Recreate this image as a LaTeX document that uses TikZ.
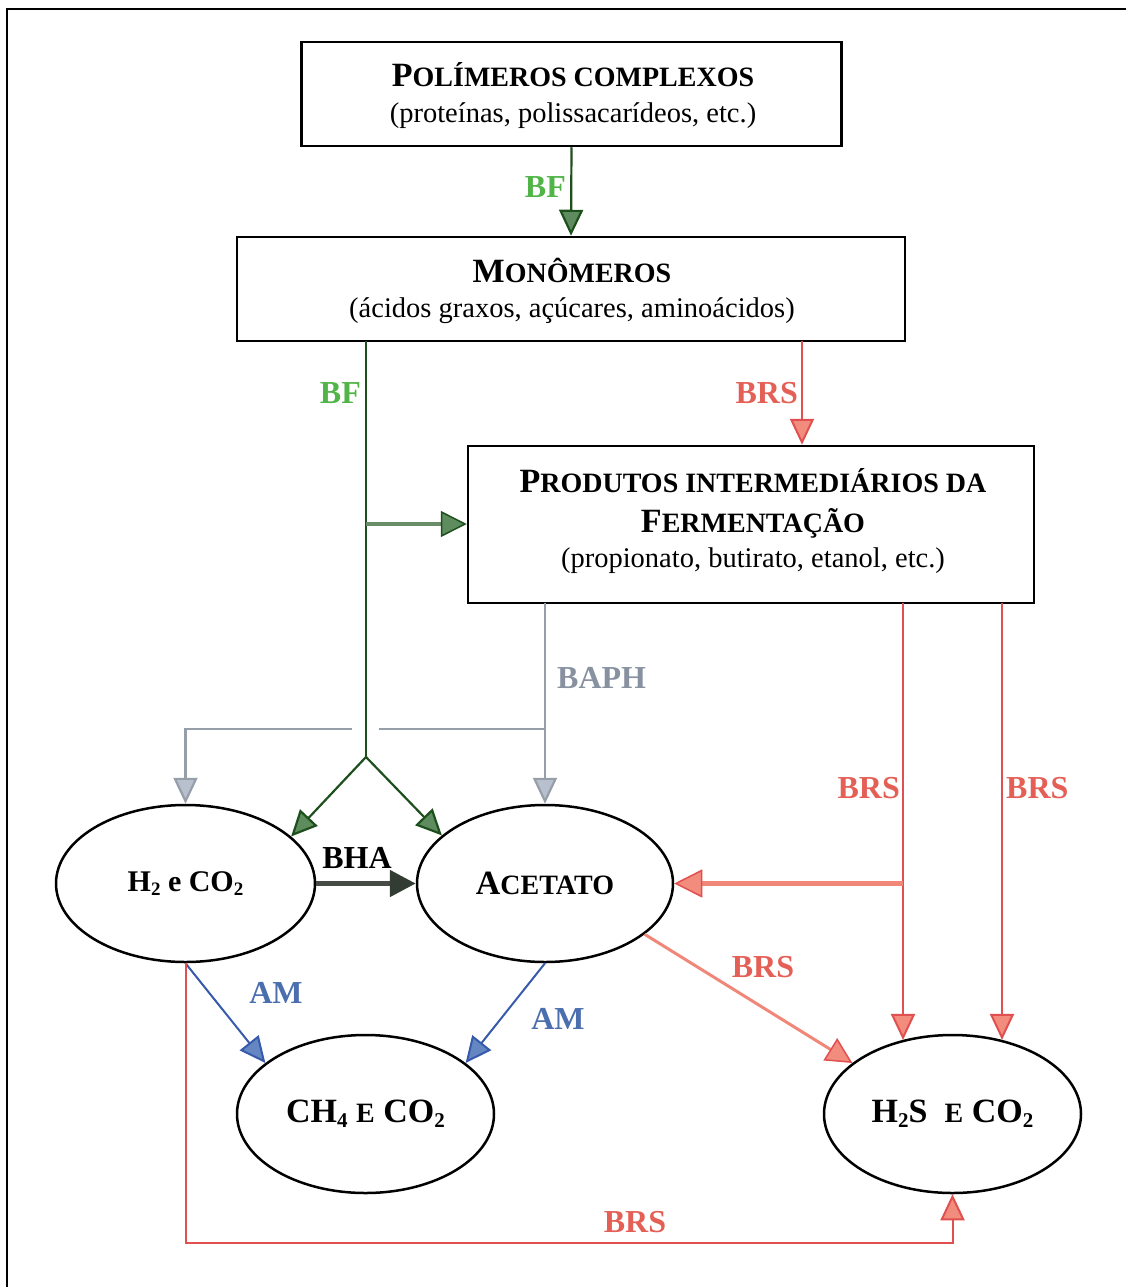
\documentclass[tikz,border=0pt]{standalone}
\usepackage{fontspec}
\setmainfont{Liberation Serif}
\usetikzlibrary{arrows.meta,shapes.geometric}
\newcommand\Bg[1]{{\fontsize{34}{40}\selectfont #1}}
\newcommand\Sm[1]{{\fontsize{28}{34}\selectfont #1}}
\newcommand\Sb[1]{\raisebox{-0.3ex}{\fontsize{21}{21}\selectfont #1}}
\newcommand\Sbs[1]{\raisebox{-0.3ex}{\fontsize{19}{19}\selectfont #1}}
\definecolor{gdark}{RGB}{30,80,30}
\definecolor{gfill}{RGB}{95,140,95}
\definecolor{gmid}{RGB}{105,140,105}
\definecolor{gtext}{RGB}{80,180,70}
\definecolor{rline}{RGB}{225,80,80}
\definecolor{rfill}{RGB}{242,140,125}
\definecolor{rthick}{RGB}{240,135,120}
\definecolor{rtext}{RGB}{228,95,85}
\definecolor{kline}{RGB}{150,158,170}
\definecolor{kfill}{RGB}{185,192,205}
\definecolor{ktext}{RGB}{135,145,160}
\definecolor{bline}{RGB}{55,90,170}
\definecolor{bfill}{RGB}{100,135,195}
\definecolor{btext}{RGB}{75,110,175}
\definecolor{hline}{RGB}{70,75,70}
\definecolor{hfill}{RGB}{50,60,50}
\begin{document}
\begin{tikzpicture}[x=1pt,y=-1pt,
  box/.style={draw, line width=2.5pt, rectangle, inner sep=0pt},
  ell/.style={draw, line width=2.5pt, ellipse, inner sep=0pt, font=\bfseries},
  lab/.style={inner sep=0pt, font=\fontsize{32}{36}\selectfont\bfseries},
  tip/.style={-{Triangle[length=26pt,width=24pt,fill=#1]}},
  gline/.style={draw=gdark, line width=2.2pt, tip=gfill},
  rln/.style={draw=rline, line width=2pt, tip=rfill},
  kln/.style={draw=kline, line width=2.2pt, tip=kfill},
  bln/.style={draw=bline, line width=2pt, tip=bfill}]
\useasboundingbox (0,0) rectangle (1126,1287);
\draw[line width=2.5pt] (7,1287) -- (7,9) -- (1126,9);

% boxes
\node[box, minimum width=540pt, minimum height=104pt] (box1) at (571.5,94) {};
\node[inner sep=0pt, align=center, font=\fontsize{28.5}{34}\selectfont] (box1t) at (573,96)
  {{\bfseries\Sm{\Bg{P}OLÍMEROS COMPLEXOS}}\\[2pt]{(proteínas, polissacarídeos, etc.)}};
\node[box, minimum width=668pt, minimum height=104pt] (box2) at (571,289) {};
\node[inner sep=0pt, align=center, font=\fontsize{28.5}{34}\selectfont] (box2t) at (572,291)
  {{\bfseries\Sm{\Bg{M}ONÔMEROS}}\\[1pt]{(ácidos graxos, açúcares, aminoácidos)}};
\node[box, minimum width=566pt, minimum height=157pt] (box3) at (751,524.5) {};
\node[inner sep=0pt, align=center, font=\fontsize{28.5}{32}\selectfont] (box3t) at (753,521)
  {{\bfseries\Sm{\Bg{P}RODUTOS INTERMEDIÁRIOS DA}}\\[8pt]{\bfseries\Sm{\Bg{F}ERMENTAÇÃO}}\\[3pt]{(propionato, butirato, etanol, etc.)}};

% ellipses
\node[ell, minimum width=259pt, minimum height=157pt] (e_h2) at (185.5,883.5)
  {\fontsize{30}{36}\selectfont H\Sbs{2} e CO\Sbs{2}};
\node[ell, minimum width=256pt, minimum height=157pt] (e_ac) at (545,883.5)
  {\Sm{\Bg{A}CETATO}};
\node[ell, minimum width=257pt, minimum height=158pt] (e_ch4) at (365.5,1114)
  {\Bg{CH\Sb{4} \Sm{E} CO\Sb{2}}};
\node[ell, minimum width=257pt, minimum height=158pt] (e_h2s) at (952.5,1114)
  {\Bg{H\Sb{2}S\hspace{0.5em}\Sm{E} CO\Sb{2}}};

% BF box1 -> box2
\draw[gline] (box1.south) -- (box2.north);
\node[lab, text=gtext, anchor=east] (lbf1) at (566,187) {BF};

% green trunk
\coordinate (gA) at (366,341);
\coordinate (gB) at (366,524);
\coordinate (gS) at (366,757);
\draw[draw=gdark, line width=2.2pt] (gA) -- (gS);
\draw[gline] (gS) -- (e_h2.24);
\draw[gline] (gS) -- (e_ac.155);
\draw[draw=gmid, line width=4pt, -{Triangle[length=26pt,width=26pt,fill=gfill,color=gdark,line width=1.5pt]}] (gB) -- (gB -| box3.west);
\node[lab, text=gtext, anchor=east] (lbf2) at (361,393) {BF};

% red box2 -> box3
\coordinate (rA) at (802,341);
\draw[rln] (rA) -- (rA |- box3.north);
\node[lab, text=rtext, anchor=east] (lbrs1) at (798,393) {BRS};

% gray BAPH
\coordinate (kA) at (545,603);
\coordinate (kJ) at (545,729);
\coordinate (kG1) at (379,729);
\coordinate (kG2) at (352,729);
\draw[kln] (kA) -- (e_ac.north);
\draw[draw=kline, line width=2.2pt] (kJ) -- (kG1);
\draw[kln] (kG2) -- (kG2 -| e_h2.north) -- (e_h2.north);
\node[lab, text=ktext, anchor=west] (lbaph) at (557,678) {BAPH};

% BHA
\draw[draw=hline, line width=5pt, -{Triangle[length=26pt,width=26pt,fill=hfill,color=hfill]}] (e_h2.east) -- (e_ac.west);
\node[lab] (lbha) at (357,858) {BHA};

% red from box3
\coordinate (rB) at (903,603);
\coordinate (rC) at (1002,603);
\draw[rln] (rB) -- (rB |- e_h2s.124);
\draw[rln] (rC) -- (rC |- e_h2s.56);
\draw[draw=rthick, line width=5pt, -{Triangle[length=28pt,width=28pt,fill=rfill,color=rline,line width=1.5pt]}] (rB |- e_ac.east) -- (e_ac.east);
\node[lab, text=rtext, anchor=east] (lbrs2) at (900,788) {BRS};
\node[lab, text=rtext, anchor=west] (lbrs3) at (1006,788) {BRS};

% red diagonal
\draw[draw=rthick, line width=3pt, -{Triangle[length=26pt,width=26pt,fill=rfill,color=rline,line width=1.5pt]}] (e_ac.-27) -- (e_h2s.153);
\node[lab, text=rtext] (lbrs4) at (763,967) {BRS};

% blue AM
\draw[bln] (e_h2.south) -- (e_ch4.153);
\draw[bln] (e_ac.south) -- (e_ch4.27);
\node[lab, text=btext] (lam1) at (276,993) {AM};
\node[lab, text=btext] (lam2) at (558,1019) {AM};

% red bottom
\coordinate (rBot) at (187,1243);
\draw[rln] (e_h2.south) -- (e_h2.south |- rBot) -- (rBot -| e_h2s.south) -- (e_h2s.south);
\node[lab, text=rtext] (lbrs5) at (635,1222) {BRS};
\end{tikzpicture}
\end{document}
